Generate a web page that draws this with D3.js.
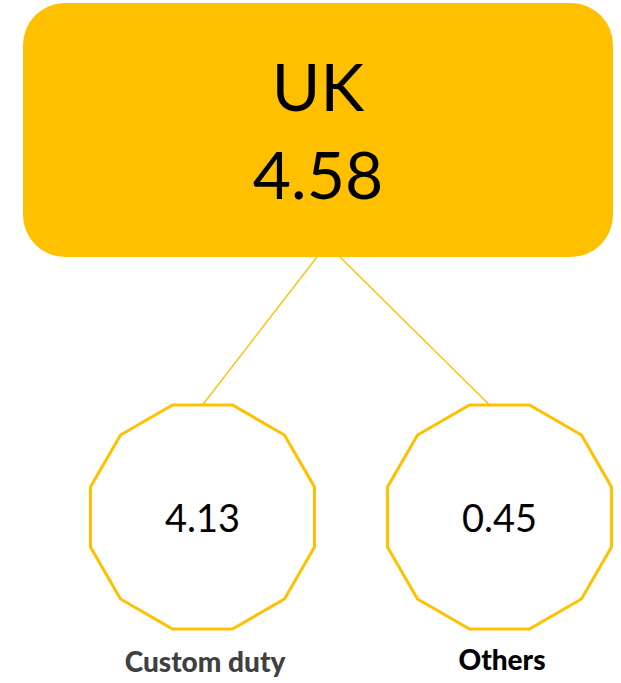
<!DOCTYPE html>
<html>
<head>
<meta charset="utf-8">
<script src="https://cdn.jsdelivr.net/npm/d3@7"></script>
<style>
  body { margin: 0; background: #fff; }
  svg { display: block; }
</style>
</head>
<body>
<svg></svg>
<script>
var width = 621;
var height = 683;

// root node
var rootName = "UK";
var rootValue = 4.58;

// children
var childNames = ["Custom duty", "Others"];
var childValues = [4.13, 0.45];
var childLabelColors = ["#404040", "#000000"];

var gold = "#FFC000";
var font = "Lato, 'Open Sans', sans-serif";

var svg = d3.select("svg")
    .attr("width", width)
    .attr("height", height);

// box for the root
var box = { x0: 23, x1: 613, y0: 3, y1: 257 };
var boxCx = (box.x0 + box.x1) / 2;

// centres of the child shapes
var xScale = d3.scalePoint()
    .domain(childNames)
    .range([202.5, 499.5]);
var childCy = 517;
var apothem = 112;
var radius = apothem / Math.cos(Math.PI / 12);

// links (drawn first, under the box)
var linkStart = [317, 340];
svg.selectAll("line.link")
    .data(childNames)
    .enter()
    .append("line")
    .attr("class", "link")
    .attr("x1", function(d, i) { return linkStart[i]; })
    .attr("y1", box.y1)
    .attr("x2", function(d, i) { return i === 0 ? xScale(d) : xScale(d) - 10; })
    .attr("y2", childCy - apothem)
    .attr("stroke", gold)
    .attr("stroke-width", 1.3);

svg.append("rect")
    .attr("x", box.x0)
    .attr("y", box.y0)
    .attr("width", box.x1 - box.x0)
    .attr("height", box.y1 - box.y0)
    .attr("rx", 42)
    .attr("ry", 42)
    .attr("fill", gold);

svg.append("text")
    .attr("x", boxCx)
    .attr("y", 111)
    .attr("text-anchor", "middle")
    .style("font-family", font)
    .style("font-size", "66px")
    .text(rootName);

svg.append("text")
    .attr("x", boxCx)
    .attr("y", 199)
    .attr("text-anchor", "middle")
    .style("font-family", font)
    .style("font-size", "66px")
    .text(rootValue.toFixed(2));

// dodecagon with flat top
function dodecagon(cx, cy) {
    var pts = [];
    for (var k = 0; k < 12; k++) {
        var a = Math.PI / 12 + k * Math.PI / 6;
        pts.push([cx + radius * Math.cos(a), cy + radius * Math.sin(a)]);
    }
    return d3.line()(pts) + "Z";
}

var nodes = svg.selectAll("g.child")
    .data(childNames)
    .enter()
    .append("g")
    .attr("class", "child");

nodes.append("path")
    .attr("d", function(d) { return dodecagon(xScale(d), childCy); })
    .attr("fill", "#fff")
    .attr("stroke", gold)
    .attr("stroke-width", 3);

nodes.append("text")
    .attr("x", function(d) { return xScale(d); })
    .attr("y", 532)
    .attr("text-anchor", "middle")
    .style("font-family", font)
    .style("font-size", "38px")
    .text(function(d, i) { return childValues[i].toFixed(2); });

var labelX = [205, 502];
nodes.append("text")
    .attr("x", function(d, i) { return labelX[i]; })
    .attr("y", function(d, i) { return i === 0 ? 672 : 670; })
    .attr("text-anchor", "middle")
    .style("font-family", font)
    .style("font-weight", "900")
    .style("font-size", "28px")
    .attr("fill", function(d, i) { return childLabelColors[i]; })
    .text(function(d) { return d; });
</script>
</body>
</html>
